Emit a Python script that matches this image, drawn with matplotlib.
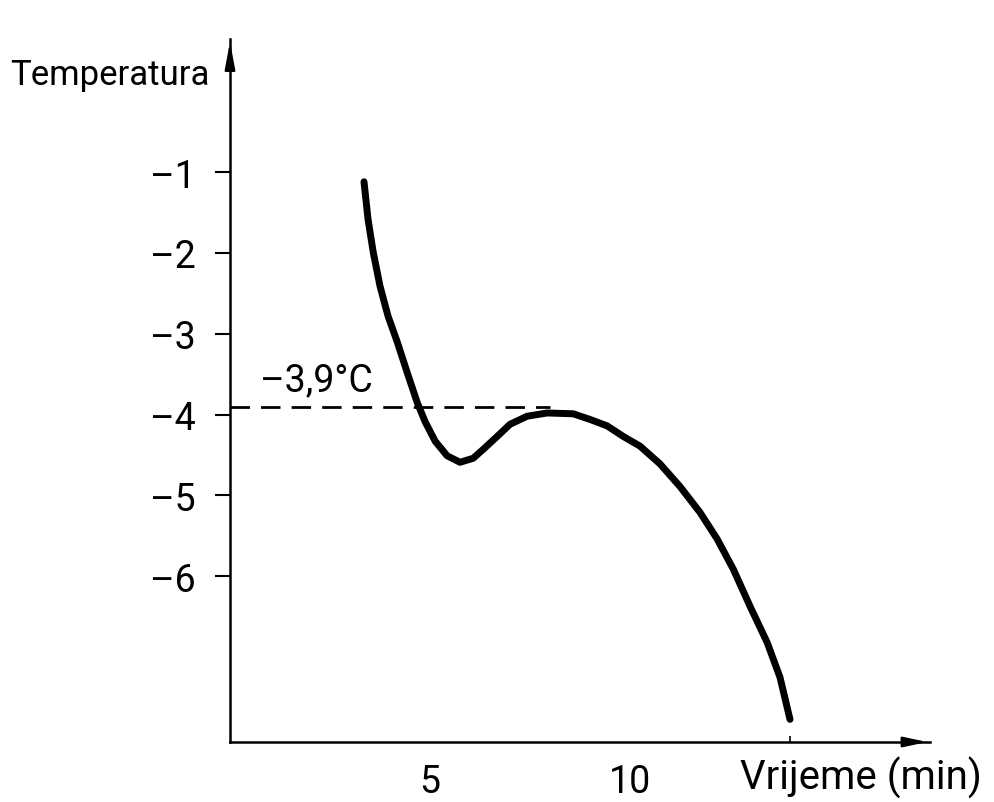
import matplotlib.pyplot as plt
import numpy as np

# curve (time in min, temperature in C)
vrijeme = [3.35, 3.45, 3.58, 3.75, 3.95, 4.18, 4.43, 4.68, 4.88, 5.13, 5.43, 5.75,
           6.08, 6.33, 6.68, 7.0, 7.43, 7.93, 8.58, 9.0, 9.43, 9.83, 10.25, 10.75,
           11.25, 11.75, 12.18, 12.58, 13.0, 13.43, 13.75, 14.0]
temperatura = [-1.12, -1.58, -1.99, -2.41, -2.78, -3.10, -3.48, -3.85, -4.09, -4.33,
               -4.51, -4.59, -4.54, -4.43, -4.27, -4.12, -4.02, -3.98, -3.99, -4.06,
               -4.14, -4.27, -4.39, -4.61, -4.89, -5.21, -5.54, -5.91, -6.37, -6.82,
               -7.25, -7.77]
crtkano_x = [0, 8.0]
crtkano_y = -3.9
y_ticks = [-1, -2, -3, -4, -5, -6]
x_ticks = [5, 10]

plt.rcParams['font.family'] = ['Roboto', 'DejaVu Sans']

fig = plt.figure(figsize=(9.95, 8.03), dpi=100)
ax = fig.add_axes([230/995, 1 - 743/803, 700/995, 703/803])
ax.set_xlim(0, 17.5)
ax.set_ylim(-8.05, 0.646)

ax.plot(vrijeme, temperatura, color='black', lw=5, solid_capstyle='round',
        solid_joinstyle='round')
ax.plot(crtkano_x, [crtkano_y, crtkano_y], color='black', lw=2, dashes=(7, 4))
ax.text(0.75, crtkano_y + 0.1, '–3,9°C', fontsize=27, va='bottom', ha='left')

for s in ['top', 'right']:
    ax.spines[s].set_visible(False)
for s in ['left', 'bottom']:
    ax.spines[s].set_linewidth(1.8)

# arrows at axis ends
ax.annotate('', xy=(1.0, 0), xytext=(0.97, 0), xycoords='axes fraction',
            arrowprops=dict(arrowstyle='-|>,head_length=1.4,head_width=0.3',
                            color='black', lw=1.8))
ax.annotate('', xy=(0, 1.0), xytext=(0, 0.96), xycoords='axes fraction',
            arrowprops=dict(arrowstyle='-|>,head_length=1.6,head_width=0.3',
                            color='black', lw=1.8))

ax.set_yticks(y_ticks)
ax.set_yticklabels(['–' + str(-v) for v in y_ticks])
ax.tick_params(axis='y', direction='out', length=11, width=1.5, pad=14, labelsize=27)
ax.set_xticks(x_ticks)
ax.tick_params(axis='x', length=0, pad=15, labelsize=27)
ax.set_xticks([14], minor=True)
ax.tick_params(axis='x', which='minor', direction='in', length=4, width=1.2)

fig.text(10/995, 1 - 75/803, 'Temperatura', fontsize=25, va='center', ha='left')
fig.text(740/995, 1 - 778/803, 'Vrijeme (min)', fontsize=29, va='center', ha='left')

fig.savefig('out.png', dpi=100, facecolor='white')
